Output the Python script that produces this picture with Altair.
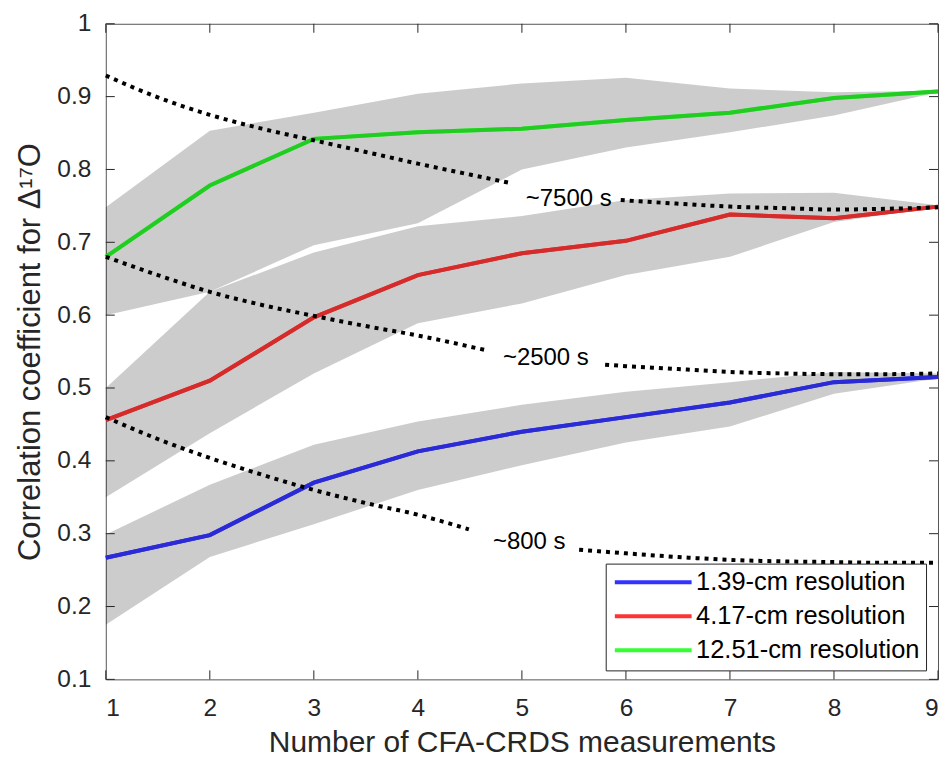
import altair as alt
import pandas as pd

# ---------------- data ----------------
x_vals = [1, 2, 3, 4, 5, 6, 7, 8, 9]
series_names = ["1.39-cm resolution", "4.17-cm resolution", "12.51-cm resolution"]

blue_mean = [0.267, 0.298, 0.370, 0.413, 0.440, 0.460, 0.480, 0.508, 0.515]
blue_low = [0.175, 0.268, 0.313, 0.360, 0.394, 0.425, 0.447, 0.492, 0.513]
blue_high = [0.299, 0.367, 0.422, 0.454, 0.477, 0.495, 0.508, 0.522, 0.520]

red_mean = [0.456, 0.510, 0.597, 0.655, 0.685, 0.702, 0.738, 0.733, 0.749]
red_low = [0.350, 0.438, 0.520, 0.589, 0.616, 0.655, 0.680, 0.728, 0.748]
red_high = [0.500, 0.632, 0.686, 0.722, 0.736, 0.758, 0.767, 0.768, 0.751]

green_mean = [0.680, 0.778, 0.842, 0.851, 0.856, 0.868, 0.878, 0.898, 0.907]
green_low = [0.600, 0.632, 0.696, 0.726, 0.800, 0.830, 0.851, 0.874, 0.906]
green_high = [0.748, 0.853, 0.878, 0.904, 0.918, 0.926, 0.911, 0.906, 0.908]

# dotted reference curves (two pieces each, gap where the label sits)
c7500_x = [1, 1.5, 2, 2.5, 3, 3.5, 4, 4.5, 4.9, 5.95, 6.5, 7, 7.5, 8, 8.5, 9]
c7500_y = [0.929, 0.899, 0.875, 0.856, 0.840, 0.824, 0.808, 0.793, 0.781,
           0.758, 0.753, 0.749, 0.747, 0.745, 0.746, 0.748]
c7500_seg = [0] * 9 + [1] * 7

c2500_x = [1, 1.5, 2, 2.5, 3, 3.5, 4, 4.65, 5.8, 6, 6.5, 7, 7.5, 8, 8.5, 9]
c2500_y = [0.680, 0.655, 0.632, 0.614, 0.599, 0.585, 0.572, 0.552,
           0.532, 0.530, 0.526, 0.522, 0.520, 0.519, 0.519, 0.520]
c2500_seg = [0] * 8 + [1] * 8

c800_x = [1, 1.5, 2, 2.5, 3, 3.5, 4, 4.49, 5.55, 6, 6.5, 7, 7.5, 8, 8.5, 9]
c800_y = [0.460, 0.430, 0.404, 0.381, 0.360, 0.342, 0.326, 0.306,
          0.278, 0.273, 0.268, 0.264, 0.262, 0.261, 0.260, 0.260]
c800_seg = [0] * 8 + [1] * 8

label_text = ["~7500 s", "~2500 s", "~800 s"]
label_x = [5.45, 5.23, 5.07]
label_y = [0.760, 0.541, 0.288]

x_ticks = [1, 2, 3, 4, 5, 6, 7, 8, 9]
y_ticks = [0.1, 0.2, 0.3, 0.4, 0.5, 0.6, 0.7, 0.8, 0.9, 1.0]

# ---------------- tables ----------------
rows = []
for name, m, lo, hi in [
    (series_names[0], blue_mean, blue_low, blue_high),
    (series_names[1], red_mean, red_low, red_high),
    (series_names[2], green_mean, green_low, green_high),
]:
    for i, xv in enumerate(x_vals):
        rows.append({"series": name, "x": xv, "mean": m[i], "lo": lo[i], "hi": hi[i]})
df = pd.DataFrame(rows)

crows = []
for name, xs_, ys_, ss_ in [
    ("7500", c7500_x, c7500_y, c7500_seg),
    ("2500", c2500_x, c2500_y, c2500_seg),
    ("800", c800_x, c800_y, c800_seg),
]:
    for xv, yv, sv in zip(xs_, ys_, ss_):
        crows.append({"curve": f"{name}-{sv}", "x": xv, "y": yv})
cdf = pd.DataFrame(crows)

ldf = pd.DataFrame({"text": label_text, "x": label_x, "y": label_y})
xt_df = pd.DataFrame({"x": x_ticks})
yt_df = pd.DataFrame({"y": y_ticks})

# ---------------- styling ----------------
W, H = 834, 657
FONT = "Liberation Sans"
AX = "#262626"
TICK_LEN = 9
bright = ["#3333ff", "#ff3333", "#33ff33"]
dark = ["#2b2bd6", "#d42b2b", "#22cc22"]

xs = alt.Scale(domain=[1, 9], nice=False, zero=False)
ys = alt.Scale(domain=[0.1, 1.0], nice=False, zero=False)

x_axis = alt.Axis(values=x_ticks, format="d", title="Number of CFA-CRDS measurements",
                  labelFontSize=24.5, titleFontSize=30, labelFont=FONT, titleFont=FONT,
                  labelColor=AX, titleColor=AX, titleFontWeight="normal",
                  ticks=False, tickSize=0, domain=False, grid=False,
                  labelPadding=17, titlePadding=8)
y_axis = alt.Axis(values=y_ticks, format=".1~f", title="Correlation coefficient for Δ¹⁷O",
                  labelFontSize=24.5, titleFontSize=31, labelFont=FONT, titleFont=FONT,
                  labelColor=AX, titleColor=AX, titleFontWeight="normal",
                  ticks=False, tickSize=0, domain=False, grid=False,
                  labelPadding=15, titlePadding=10)


def X(field):
    return alt.X(field, scale=xs, axis=x_axis)


def Y(field):
    return alt.Y(field, scale=ys, axis=y_axis)


bands = alt.Chart(df).mark_area(color="#000000", opacity=0.2).encode(
    x=X("x:Q"), y=Y("lo:Q"), y2="hi:Q", detail="series:N",
)

legend = alt.Legend(
    orient="none", legendX=501, legendY=541, title=None,
    symbolType="M-1,0L7,0", symbolSize=370, symbolStrokeWidth=4,
    labelFontSize=25.5, labelFont=FONT, labelColor="#000000", labelLimit=500,
    labelOffset=59, rowPadding=7, padding=6,
    strokeColor=AX, fillColor="#ffffff",
)

lines_bright = alt.Chart(df).mark_line(strokeWidth=4).encode(
    x=X("x:Q"), y=Y("mean:Q"),
    color=alt.Color("series:N", scale=alt.Scale(domain=series_names, range=bright),
                    sort=series_names, legend=legend),
)
lines_dark = alt.Chart(df).mark_line(strokeWidth=4).encode(
    x=X("x:Q"), y=Y("mean:Q"),
    stroke=alt.Stroke("series:N", scale=alt.Scale(domain=series_names, range=dark), legend=None),
)

dotted = alt.Chart(cdf).mark_line(color="#000000", strokeWidth=4, strokeDash=[4, 5],
                                  strokeCap="butt", interpolate="monotone").encode(
    x=X("x:Q"), y=Y("y:Q"), detail="curve:N",
)

labels = alt.Chart(ldf).mark_text(font=FONT, fontSize=24, color="#000000",
                                  align="center", baseline="middle").encode(
    x=X("x:Q"), y=Y("y:Q"), text="text:N",
)

tb = alt.Chart(xt_df).mark_rule(color=AX, strokeWidth=1).encode(
    x=X("x:Q"), y=alt.value(H), y2=alt.value(H - TICK_LEN))
tt = alt.Chart(xt_df).mark_rule(color=AX, strokeWidth=1).encode(
    x=X("x:Q"), y=alt.value(0), y2=alt.value(TICK_LEN))
tl = alt.Chart(yt_df).mark_rule(color=AX, strokeWidth=1).encode(
    y=Y("y:Q"), x=alt.value(0), x2=alt.value(TICK_LEN))
tr = alt.Chart(yt_df).mark_rule(color=AX, strokeWidth=1).encode(
    y=Y("y:Q"), x=alt.value(W), x2=alt.value(W - TICK_LEN))

chart = alt.layer(
    bands, lines_bright, lines_dark, dotted, labels, tb, tt, tl, tr
).resolve_scale(color="independent", stroke="independent").properties(
    width=W, height=H,
    autosize=alt.AutoSizeParams(type="none"),
    padding={"left": 98, "top": 15, "right": 2, "bottom": 80},
    background="white",
).configure_view(stroke="#555555", strokeWidth=1)

chart.save("out.html", embed_options={"renderer": "svg", "actions": False})
